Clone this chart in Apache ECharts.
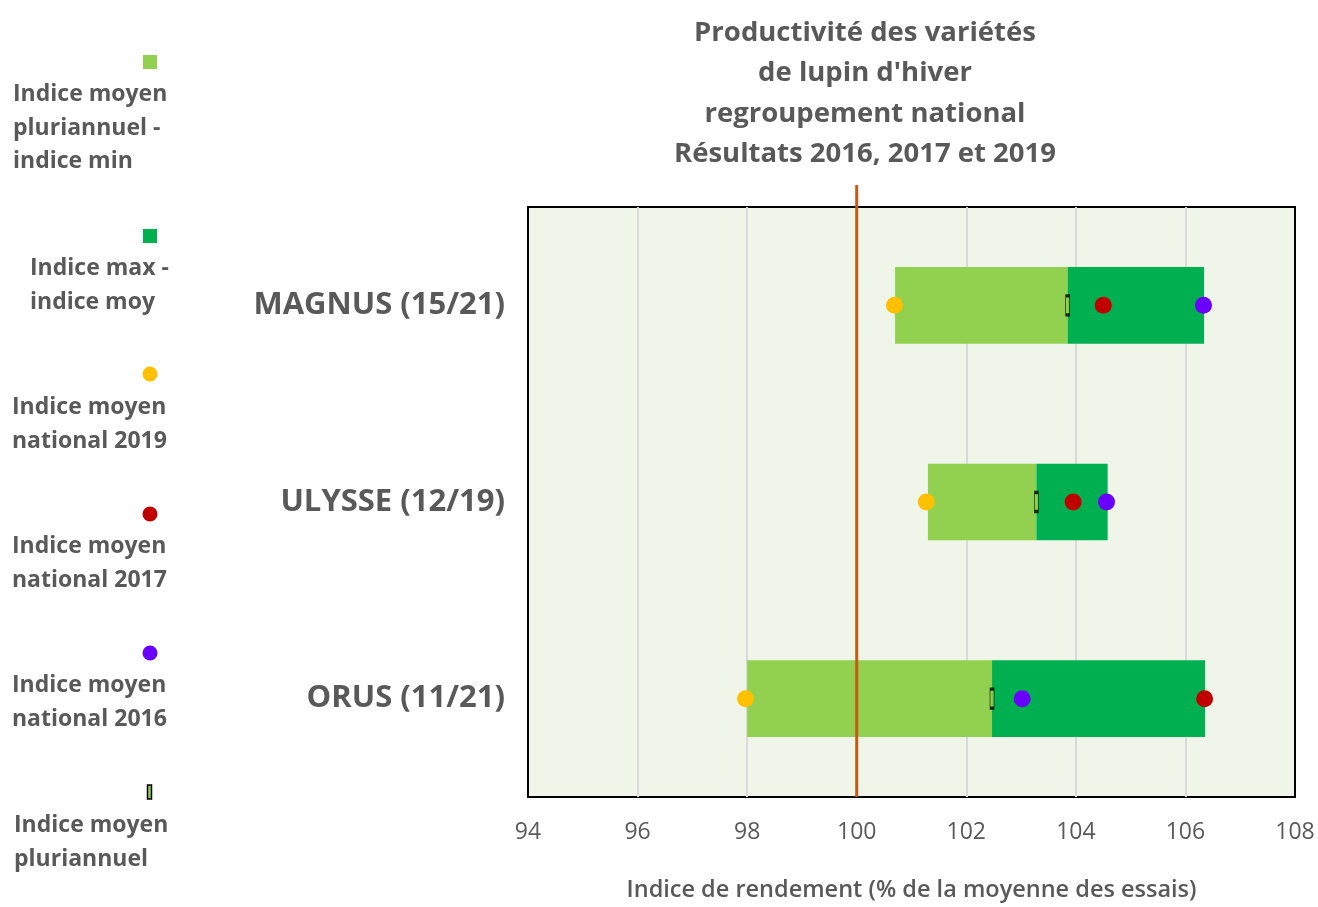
<!DOCTYPE html>
<html>
<head>
    <meta charset="UTF-8">
    <title>Productivité lupin d'hiver</title>
    <script src="https://cdn.jsdelivr.net/npm/echarts@6/dist/echarts.min.js"></script>
    <style>
        html, body { margin: 0; padding: 0; background: #fff; }
        #chart { width: 1318px; height: 907px; }
    </style>
</head>
<body>
<div id="chart"></div>
<script>
    // données
    var varietes = ['MAGNUS (15/21)', 'ULYSSE (12/19)', 'ORUS (11/21)'];
    var indiceMin = [100.7, 101.3, 98.0];
    var indiceMoy = [103.85, 103.28, 102.47];
    var indiceMax = [106.34, 104.58, 106.36];
    var national2019 = [100.69, 101.27, 97.97];
    var national2017 = [104.5, 103.95, 106.35];
    var national2016 = [106.33, 104.56, 103.02];
    var ticksX = [94, 96, 98, 100, 102, 104, 106, 108];
    var reference = 100;

    var gris = '#595959';
    var police = '"Open Sans", sans-serif';

    // légende à gauche (icône au dessus, texte en dessous)
    var legende = [
        { texte: 'Indice moyen\npluriannuel -\nindice min', icone: 'carre', couleur: '#92D050', iy: 62, tx: 13, ty: 78 },
        { texte: 'Indice max -\nindice moy', icone: 'carre', couleur: '#00B050', iy: 236, tx: 30, ty: 252 },
        { texte: 'Indice moyen\nnational 2019', icone: 'rond', couleur: '#FFC000', iy: 374, tx: 12, ty: 391 },
        { texte: 'Indice moyen\nnational 2017', icone: 'rond', couleur: '#C00000', iy: 514, tx: 12, ty: 530 },
        { texte: 'Indice moyen\nnational 2016', icone: 'rond', couleur: '#6A00FF', iy: 653, tx: 12, ty: 669 },
        { texte: 'Indice moyen\npluriannuel', icone: 'barre', couleur: '#92D050', iy: 792, tx: 14, ty: 809 }
    ];

    var graphiques = [];
    legende.forEach(function (l) {
        if (l.icone === 'carre') {
            graphiques.push({ type: 'rect', shape: { x: 143, y: l.iy - 7, width: 14, height: 14 }, style: { fill: l.couleur } });
        } else if (l.icone === 'rond') {
            graphiques.push({ type: 'circle', shape: { cx: 150, cy: l.iy, r: 7.5 }, style: { fill: l.couleur } });
        } else {
            graphiques.push({ type: 'rect', shape: { x: 147.5, y: l.iy - 7, width: 4, height: 14 }, style: { fill: l.couleur, stroke: '#000', lineWidth: 1.5 } });
        }
        graphiques.push({
            type: 'text', left: l.tx, top: l.ty,
            style: { text: l.texte, fill: gris, font: 'bold 23px ' + police, lineHeight: 33.5 }
        });
    });

    var base = indiceMin;
    var partieBasse = indiceMoy.map(function (v, i) { return +(v - indiceMin[i]).toFixed(2); });
    var partieHaute = indiceMax.map(function (v, i) { return +(v - indiceMoy[i]).toFixed(2); });

    function points(valeurs) {
        return valeurs.map(function (v, i) { return [v, varietes[i]]; });
    }

    var chart = echarts.init(document.getElementById('chart'));

    var option = {
        animation: false,
        textStyle: { fontFamily: police },
        title: {
            text: 'Productivité des variétés\nde lupin d\'hiver\nregroupement national\nRésultats 2016, 2017 et 2019',
            left: 860,
            top: 8,
            textAlign: 'center',
            textStyle: { color: gris, fontSize: 27.5, fontWeight: 'bold', lineHeight: 40.3, fontFamily: police }
        },
        graphic: graphiques,
        grid: {
            left: 528, right: 23, top: 207, bottom: 107,
            show: true,
            backgroundColor: '#EFF6E9',
            borderColor: '#000',
            borderWidth: 2
        },
        xAxis: {
            type: 'value',
            min: ticksX[0],
            max: ticksX[ticksX.length - 1],
            interval: 2,
            axisLine: { show: false },
            axisTick: { show: false },
            axisLabel: { color: gris, fontSize: 23, margin: 24, fontFamily: police },
            splitLine: { show: true, showMinLine: false, showMaxLine: false, lineStyle: { color: '#D9D9D9', width: 2 } },
            name: 'Indice de rendement (% de la moyenne des essais)',
            nameLocation: 'middle',
            nameGap: 81,
            nameTextStyle: { color: gris, fontSize: 23.5, fontWeight: 600, fontFamily: police }
        },
        yAxis: {
            type: 'category',
            data: varietes,
            inverse: true,
            axisLine: { show: false },
            axisTick: { show: false },
            splitLine: { show: false },
            axisLabel: { color: gris, fontSize: 31, fontWeight: 'bold', margin: 23, padding: [7, 0, 0, 0], fontFamily: police }
        },
        series: [
            {
                type: 'bar', stack: 'plage', data: base,
                barWidth: '39%',
                itemStyle: { color: 'rgba(0,0,0,0)' },
                silent: true
            },
            {
                name: 'Indice moyen pluriannuel - indice min',
                type: 'bar', stack: 'plage', data: partieBasse,
                itemStyle: { color: '#92D050' }
            },
            {
                name: 'Indice max - indice moy',
                type: 'bar', stack: 'plage', data: partieHaute,
                itemStyle: { color: '#00B050' }
            },
            {
                name: 'Indice moyen pluriannuel',
                type: 'scatter', data: points(indiceMoy),
                symbol: 'rect', symbolSize: [4, 19],
                itemStyle: { color: '#92D050', borderColor: '#000', borderWidth: 1.5 },
                z: 5
            },
            {
                name: 'Indice moyen national 2019',
                type: 'scatter', data: points(national2019),
                symbolSize: 17, itemStyle: { color: '#FFC000', opacity: 1 }, z: 6
            },
            {
                name: 'Indice moyen national 2017',
                type: 'scatter', data: points(national2017),
                symbolSize: 17, itemStyle: { color: '#C00000', opacity: 1 }, z: 6
            },
            {
                name: 'Indice moyen national 2016',
                type: 'scatter', data: points(national2016),
                symbolSize: 17, itemStyle: { color: '#6A00FF', opacity: 1 }, z: 6
            },
            {
                // trait de référence à 100, dépasse un peu au dessus du cadre
                type: 'custom',
                data: [[reference]],
                clip: false,
                z: 4,
                renderItem: function (params, api) {
                    var x = api.coord([api.value(0), 0])[0];
                    var cs = params.coordSys;
                    return {
                        type: 'line',
                        shape: { x1: x, y1: cs.y - 22, x2: x, y2: cs.y + cs.height },
                        style: { stroke: '#C55A11', lineWidth: 3 }
                    };
                }
            }
        ]
    };

    chart.setOption(option);
</script>
</body>
</html>
